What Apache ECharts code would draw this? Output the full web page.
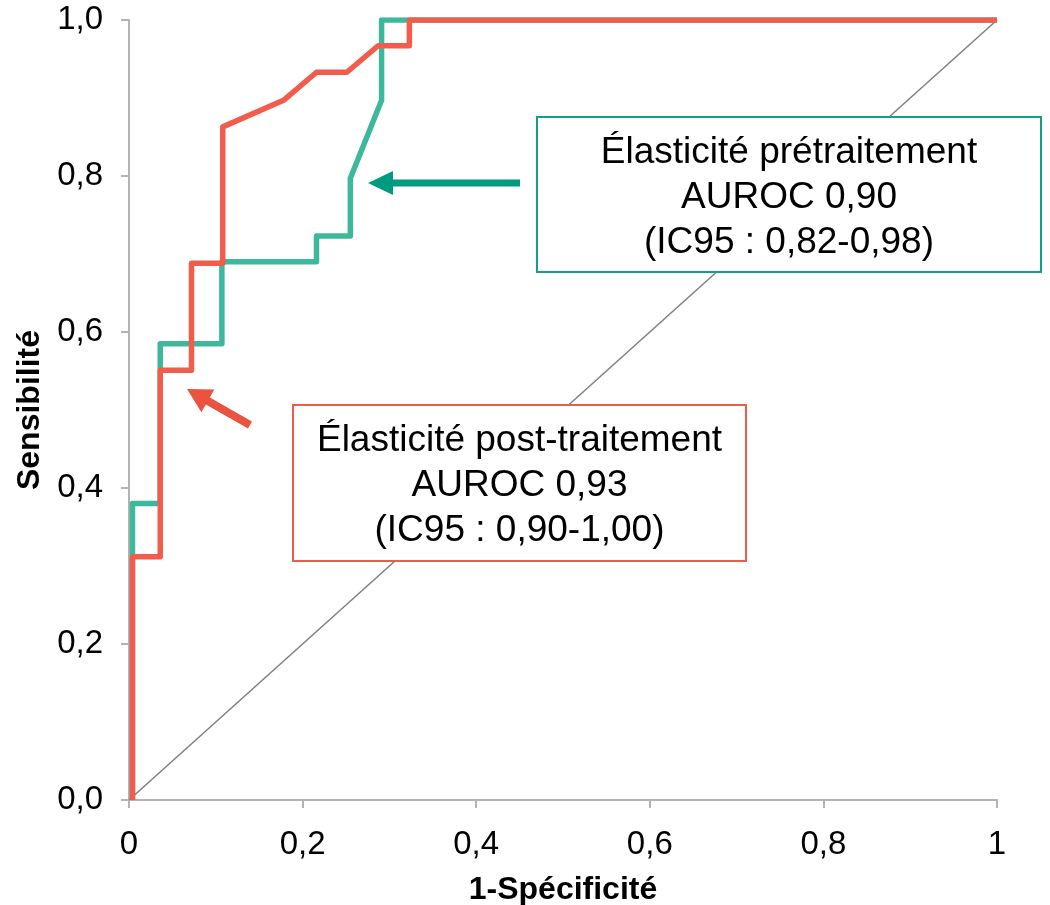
<!DOCTYPE html>
<html>
<head>
<meta charset="utf-8">
<script src="https://cdn.jsdelivr.net/npm/echarts@6/dist/echarts.min.js"></script>
<style>
  html, body { margin: 0; padding: 0; background: #fff; }
  #roc-chart { width: 1050px; height: 905px; }
</style>
</head>
<body>
<div id="roc-chart"></div>
<script>
// ROC curves (1 - specificity, sensitivity)
const preFpr = [0.004, 0.004, 0.036, 0.036, 0.107, 0.107, 0.216, 0.216, 0.255, 0.255, 0.291, 0.291, 1]
const preTpr = [0, 0.380, 0.380, 0.585, 0.585, 0.690, 0.690, 0.723, 0.723, 0.797, 0.897, 1, 1]

const postFpr = [0.004, 0.004, 0.036, 0.036, 0.072, 0.072, 0.108, 0.108, 0.178, 0.216, 0.251, 0.287, 0.323, 0.323, 1]
const postTpr = [0, 0.312, 0.312, 0.551, 0.551, 0.688, 0.688, 0.863, 0.897, 0.933, 0.933, 0.967, 0.967, 1, 1]

const chanceLine = [0, 1]

const preLabel = ['Élasticité prétraitement', 'AUROC 0,90', '(IC95 : 0,82-0,98)']
const postLabel = ['Élasticité post-traitement', 'AUROC 0,93', '(IC95 : 0,90-1,00)']

const xTitle = '1-Spécificité'
const yTitle = 'Sensibilité'

const teal = '#3db89a'
const red = '#f25c4c'

function zip(xs, ys) {
  return xs.map((x, i) => [x, ys[i]])
}

// arrow shape as a polygon, from tail to tip
function arrow(tail, tip, shaft, headLen, headW, color) {
  const dx = tip[0] - tail[0], dy = tip[1] - tail[1]
  const len = Math.sqrt(dx * dx + dy * dy)
  const ux = dx / len, uy = dy / len
  const nx = -uy, ny = ux
  const bx = tip[0] - ux * headLen, by = tip[1] - uy * headLen
  const pts = [
    [tail[0] + nx * shaft / 2, tail[1] + ny * shaft / 2],
    [bx + nx * shaft / 2, by + ny * shaft / 2],
    [bx + nx * headW / 2, by + ny * headW / 2],
    tip,
    [bx - nx * headW / 2, by - ny * headW / 2],
    [bx - nx * shaft / 2, by - ny * shaft / 2],
    [tail[0] - nx * shaft / 2, tail[1] - ny * shaft / 2]
  ]
  return { type: 'polygon', shape: { points: pts }, style: { fill: color }, z: 10 }
}

function labelBox(x, y, w, h, lines, border) {
  return [
    {
      type: 'rect', shape: { x: x, y: y, width: w, height: h },
      style: { fill: '#fff', stroke: border, lineWidth: 2 }, z: 9
    },
    {
      type: 'text', x: x + w / 2, y: y + h / 2 + 3, z: 11,
      style: {
        text: lines.join('\n'), fill: '#000',
        font: '37px "Liberation Sans", Arial, sans-serif',
        align: 'center', verticalAlign: 'middle', lineHeight: 45
      }
    }
  ]
}

const axisFont = '"Liberation Sans", Arial, sans-serif'
const axisLineStyle = { color: '#b3b3b3', width: 2 }

let myChart = echarts.init(document.getElementById('roc-chart'))

let option = {
  backgroundColor: '#fff',
  animation: false,
  grid: { left: 129, right: 53, top: 20, bottom: 105, outerBoundsMode: 'none', containLabel: false },
  xAxis: {
    type: 'value', min: 0, max: 1, interval: 0.2,
    name: xTitle, nameLocation: 'middle', nameGap: 74,
    nameTextStyle: { fontFamily: axisFont, fontSize: 32, fontWeight: 'bold', color: '#000' },
    axisLine: { show: true, onZero: false, lineStyle: axisLineStyle },
    axisTick: { show: true, length: 8, lineStyle: axisLineStyle },
    splitLine: { show: false },
    axisLabel: {
      fontFamily: axisFont, fontSize: 33, color: '#000', margin: 28,
      formatter: v => (v === 0 || v === 1) ? String(v) : v.toFixed(1).replace('.', ',')
    }
  },
  yAxis: {
    type: 'value', min: 0, max: 1, interval: 0.2,
    name: yTitle, nameLocation: 'middle', nameGap: 83, nameRotate: 90,
    nameTextStyle: { fontFamily: axisFont, fontSize: 32, fontWeight: 'bold', color: '#000' },
    axisLine: { show: true, onZero: false, lineStyle: axisLineStyle },
    axisTick: { show: true, length: 8, lineStyle: axisLineStyle },
    splitLine: { show: false },
    axisLabel: {
      fontFamily: axisFont, fontSize: 33, color: '#000', margin: 26,
      formatter: v => v.toFixed(1).replace('.', ',')
    }
  },
  series: [
    {
      name: 'Référence', type: 'line', data: zip(chanceLine, chanceLine),
      symbol: 'none', lineStyle: { color: '#7f7f7f', width: 1.5 }, z: 1
    },
    {
      name: 'Élasticité prétraitement', type: 'line', data: zip(preFpr, preTpr),
      symbol: 'none', lineStyle: { color: teal, width: 5.5, join: 'round' }, z: 2
    },
    {
      name: 'Élasticité post-traitement', type: 'line', data: zip(postFpr, postTpr),
      symbol: 'none', lineStyle: { color: red, width: 5.5, join: 'round' }, z: 3
    }
  ],
  graphic: [
    ...labelBox(537, 117, 504, 155, preLabel, '#14a087'),
    ...labelBox(293, 405, 453, 156, postLabel, '#f05a4a'),
    arrow([520, 183], [368, 183], 7, 25, 24, '#009a80'),
    arrow([250, 425], [187, 389], 8, 24, 26, '#e9533f')
  ]
}

myChart.setOption(option)
</script>
</body>
</html>
